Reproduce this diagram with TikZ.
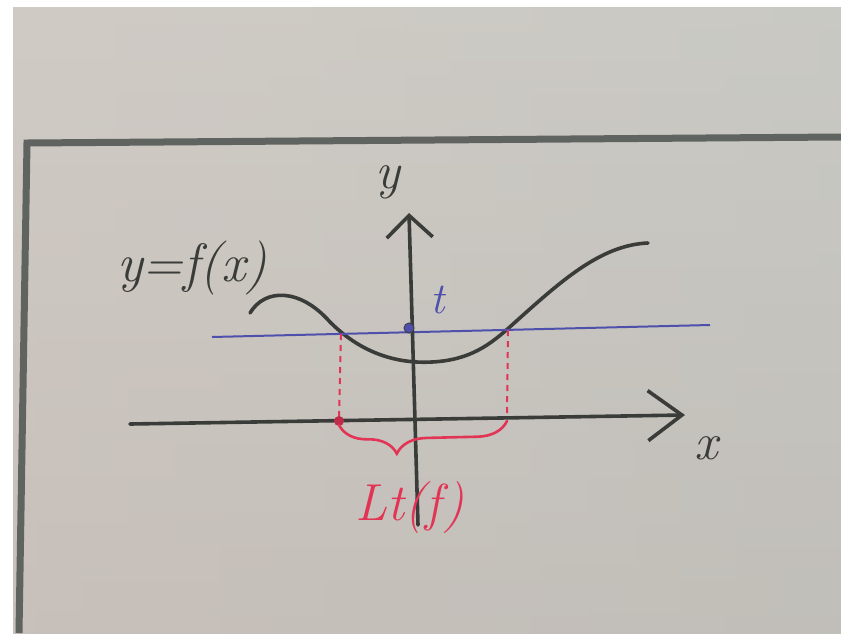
\documentclass[tikz,border=0pt]{standalone}
\usepackage{tikz}
\usetikzlibrary{arrows.meta, decorations.pathreplacing, calc}
\definecolor{ink}{RGB}{58, 60, 58}
\definecolor{framegray}{RGB}{95, 100, 97}
\definecolor{bluepen}{RGB}{78, 80, 172}
\definecolor{redpen}{RGB}{226, 52, 84}
\definecolor{paperA}{RGB}{214, 210, 204}
\definecolor{paperC}{RGB}{200, 192, 186}
\definecolor{paperD}{RGB}{182, 188, 184}

\begin{document}
\begin{tikzpicture}[x=1pt, y=-1pt,
    hand/.style={font=\fontsize{52}{58}\selectfont\itshape, text=ink, inner sep=0pt},
    pen/.style={draw=ink, line width=3.6pt, line cap=round, line join=round},
    redpen dash/.style={draw=redpen, line width=2pt, dash pattern=on 6pt off 5pt}]
  \useasboundingbox (0,0) rectangle (841,633);
  \fill[white] (0,0) rectangle (841,633);
  \shade[top color=paperA, bottom color=paperC] (13,7) rectangle (841,633);
  \shade[left color=paperC, right color=paperD, opacity=0.4] (13,7) rectangle (841,633);
  \draw[framegray, line width=7pt] (19,633) -- (27,143) -- (841,137);

  \coordinate (xs) at (130,424);
  \coordinate (xe) at (685,415);
  \coordinate (ys) at (418,525);
  \coordinate (ye) at (409,213);
  \coordinate (bl) at (212,337);
  \coordinate (br) at (710,325);
  \coordinate (tdot) at (409,328);
  \coordinate (pa) at (341,334);
  \coordinate (qa) at (508,330);
  \coordinate (pb) at (339,421);
  \coordinate (qb) at (507,418);

  \draw[pen] (250,313) .. controls (265,288) and (300,288) .. (330,322)
    .. controls (360,352) and (395,364) .. (432,362)
    .. controls (470,360) and (490,345) .. (512,325)
    .. controls (560,282) and (600,245) .. (648,243);
  \draw[bluepen, line width=2pt] (bl) -- (br);
  \draw[redpen dash] (pa) -- (pb);
  \draw[redpen dash] (qa) -- (qb);
  \draw[pen, -{Straight Barb[length=34pt, width=50pt]}] (xs) -- (xe);
  \draw[pen, -{Straight Barb[length=22pt, width=46pt]}] (ys) -- (ye);
  \fill[bluepen, draw=ink!80!bluepen, line width=1pt] (tdot) circle (5pt);
  \fill[redpen!85!black] (pb) circle (5pt);
  \draw[redpen, line width=2.6pt, line cap=round,
        decorate, decoration={brace, amplitude=30pt, aspect=0.66}]
    ($(qb)+(0,3)$) -- ($(pb)+(0,4)$);

  \node[hand] (ylab) at (388,182) {y};
  \node[hand] (xlab) at (706,448) {x};
  \node[hand, text=bluepen, font=\fontsize{44}{50}\selectfont\itshape] (tlab) at (438,300) {t};
  \node[hand, font=\fontsize{54}{60}\selectfont\itshape] (fxlab) at (192,268) {y=f(x)};
  \node[hand, text=redpen] (ltlab) at (410,508) {Lt(f)};
\end{tikzpicture}
\end{document}
